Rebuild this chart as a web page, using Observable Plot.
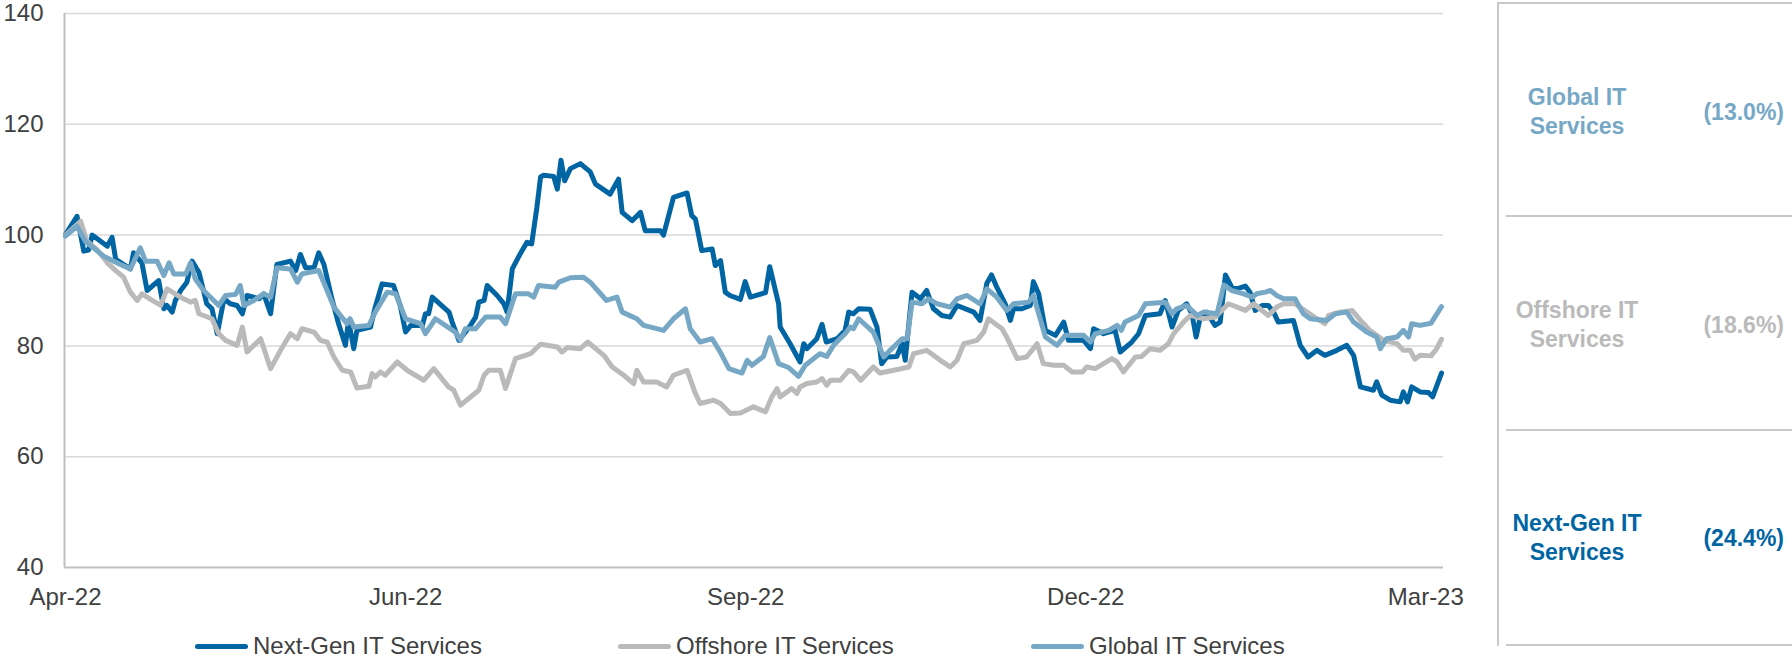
<!DOCTYPE html>
<html><head><meta charset="utf-8">
<script src="https://cdn.jsdelivr.net/npm/d3@7"></script>
<script src="https://cdn.jsdelivr.net/npm/@observablehq/plot@0.6"></script>
<style>
body{margin:0;background:#fff;font-family:"Liberation Sans",Arial,sans-serif;}
#wrap{position:relative;width:1792px;height:660px;overflow:hidden;}
#chart{position:absolute;left:0;top:0;}
.leg{position:absolute;display:flex;align-items:center;font-size:24px;color:#404040;white-space:nowrap;}
.leg .sw{width:53px;height:5px;border-radius:3px;margin-right:5px;}
.pline{position:absolute;background:#c8c8c8;}
.plabel{position:absolute;font-weight:bold;font-size:23px;line-height:29px;text-align:center;width:200px;}
.ppct{position:absolute;font-weight:bold;font-size:23px;line-height:29px;text-align:right;width:120px;}
</style></head>
<body><div id="wrap"><div id="chart"></div></div>
<script>
// Series (index: 100 = start), x = trading-day position from start of Apr-22
const seriesNames = ["Next-Gen IT Services", "Offshore IT Services", "Global IT Services"];
const seriesColors = ["#0065a2", "#bababa", "#76a8c6"];
const panelOrder = ["Global IT Services", "Offshore IT Services", "Next-Gen IT Services"];
const panelLabels = [["Global IT", "Services"], ["Offshore IT", "Services"], ["Next-Gen IT", "Services"]];
const panelChanges = ["(13.0%)", "(18.6%)", "(24.4%)"];
const tickDays = [0, 65, 130, 195, 260];
const tickLabels = ["Apr-22", "Jun-22", "Sep-22", "Dec-22", "Mar-23"];
const yTicks = [40, 60, 80, 100, 120, 140];

const nextGen = [[0,100.1],[2.2,103.4],[3.5,97.1],[4.4,97.3],[5.1,100],[8,98],[8.9,99.6],[9.6,95.6],[12.4,93.9],[13,96.8],[14.6,95],[15.6,90],[17.8,91.8],[18.8,86.7],[19.4,87.3],[20.4,86.1],[21,88.2],[22,90],[23.2,91.5],[24.2,95.3],[25.5,93.3],[27,87.6],[28,86.7],[29,82.2],[30.3,88.5],[31.5,87.6],[32.8,87.3],[33.8,85.8],[34.7,89.1],[37,88.5],[37.9,89.4],[39.2,85.8],[40.4,94.7],[43,95.3],[44,93.6],[44.9,96.5],[45.9,94.1],[47.5,94.1],[48.4,96.8],[49.4,94.7],[51,88.2],[52.2,84],[53.5,80.1],[54.1,84.6],[55.1,79.5],[55.7,82.8],[58.3,83.4],[59.2,87],[60.5,91.2],[62.7,90.9],[64,87.2],[65,82.5],[66,83.7],[68.2,83.7],[68.8,85.8],[69.4,85.8],[70.1,88.8],[73.3,86.1],[73.9,84.3],[75.2,81],[77.4,83.7],[78.4,85.2],[79,87.9],[80,88.2],[80.6,90.9],[82.5,89.1],[83.8,87.6],[84.4,86.1],[85.4,93.9],[86.9,96.6],[88.2,98.7],[89.1,98.4],[90.1,105],[90.8,110.5],[91.4,110.8],[93.3,110.6],[94,108.3],[94.7,113.5],[95.4,109.8],[96.5,112],[98.4,112.9],[100.3,111.4],[101.3,109.2],[104.1,107.4],[105.7,110.1],[106.4,104.1],[108.3,102.6],[109.9,104.1],[110.8,100.8],[113.7,100.8],[114.3,100],[116.2,106.8],[118.8,107.6],[119.7,103.5],[120.4,102.9],[121.6,97.2],[123.6,97.5],[124.2,94.5],[125.2,95.4],[126.1,89.7],[127,89.1],[129,88.4],[129.9,91.6],[130.9,88.8],[133.8,89.6],[134.6,94.3],[136.3,87.6],[136.6,83.4],[138.5,80.4],[140.4,77.1],[141.1,80.4],[141.7,79.5],[143.6,81.3],[144.6,83.9],[145.4,80.7],[147.5,81.3],[149,82.8],[149.7,86.1],[150.6,85.8],[151.6,86.7],[153.8,86.6],[155.1,83.4],[156,76.8],[157,78],[158.9,78.1],[159.9,80.4],[160.5,77.4],[161.8,89.7],[163.4,88.5],[164.6,90],[165.9,86.7],[167.5,85.5],[169.1,85.2],[170.4,87.3],[173.6,86.1],[174.8,84.6],[176.1,91.3],[177,92.8],[178,90.6],[179.6,87.6],[180.6,84.6],[181.2,86.7],[182.8,86.7],[184.4,87.3],[185,91.6],[186,89.4],[187.3,82.8],[189.2,81.9],[190.8,84.3],[191.7,81],[194.6,81],[195.9,79.5],[196.5,83.1],[198.4,82.2],[200.6,82.8],[201.6,78.9],[203.8,80.7],[205.1,82.2],[206.4,85.5],[209.2,85.8],[210.2,88.2],[211.5,83.4],[212.7,86.4],[214.3,87.6],[215.3,85.8],[216.1,81.6],[216.9,85.2],[218.1,86.1],[219.7,83.7],[220.7,84.3],[221.7,92.8],[222.9,90.6],[223.9,90.3],[225.5,90.8],[226.4,89.7],[227.4,86.4],[228.7,87.3],[229.9,87.3],[230.9,86.1],[231.8,84.3],[234.7,84.6],[236,80.1],[237.5,78],[239.2,79.2],[240.7,78.3],[243,79.2],[244.9,80.1],[246.2,78.3],[247.5,72.6],[250,72],[250.6,73.5],[251.6,71.1],[253.2,70.2],[255.1,69.9],[255.7,71.7],[256.5,69.9],[257.3,72.6],[258.9,71.7],[260.5,71.6],[261.3,70.8],[263,75.1]];

const offshore = [[0,100],[2.9,102.5],[4.1,98.9],[6,97.4],[8,95],[9.6,93.6],[11.1,92.4],[12.4,89.7],[13.7,88.2],[14.6,89.4],[16.6,88.2],[18.2,87.3],[19.4,90.3],[22,88.8],[23.9,87.9],[24.8,88.2],[25.5,85.8],[28,84.9],[29.3,82.2],[30.6,81],[32.8,80.1],[33.8,83.4],[34.7,78.9],[35.7,79.8],[37.3,81.3],[39.2,75.9],[41.1,79.2],[43,82.2],[44.3,81.3],[45.2,83.1],[47.5,82.5],[48.7,81],[50,80.7],[51.3,78],[52.9,75.6],[54.5,75.3],[55.7,72.4],[58,72.7],[58.6,75],[59.2,74.4],[60.2,75.3],[61.1,74.7],[63.4,77.1],[65.3,75.6],[68.5,73.8],[70.4,75.9],[73.2,72.6],[74.2,72],[75.5,69.3],[79,72],[80,74.7],[80.9,75.6],[83.1,75.6],[84.1,72.3],[86,77.7],[88.9,78.6],[90.8,80.3],[94,79.8],[94.9,78.9],[95.9,79.7],[98.4,79.5],[99.8,80.7],[102.9,78.3],[104.5,76.2],[106.7,74.7],[108.6,73.2],[109.2,75.6],[110.5,73.5],[113,73.5],[114.9,72.6],[116.2,74.7],[118.8,75.6],[120.4,71.4],[121.3,69.6],[123.9,70.2],[125.2,69.6],[127.1,67.8],[129,67.9],[131.5,69],[133.8,68.1],[135,70.8],[136,72.3],[136.6,70.8],[138.8,72.3],[139.8,71.4],[140.4,72.6],[141.7,73.2],[143.6,73.5],[144.6,74.1],[145.5,72.9],[146.2,73.8],[148.1,73.8],[149.7,75.6],[150.6,75.3],[152,73.8],[154.4,76.2],[155.7,75.1],[158.3,75.6],[161.2,76.2],[162.1,78.6],[164.6,79.2],[167.2,77.4],[169.1,76.2],[170.4,77.4],[171.7,80.4],[174.2,81],[175.5,82.5],[176.4,84.9],[179,83.1],[179.9,81.6],[181.9,77.7],[183.7,78],[185.7,80.4],[186.9,76.8],[188.9,76.5],[190.8,76.5],[192.4,75.3],[194.4,75.3],[195.2,76.2],[196.8,75.9],[200,77.7],[201,77.1],[202.2,75.3],[204.5,78],[205.7,78.1],[207.3,79.5],[209.2,79.2],[210.8,80.4],[211.8,82.2],[213.7,84.3],[215,85.5],[217.5,84.9],[219.7,85.2],[222.3,87.6],[225.5,86.4],[227.1,87.6],[228.7,86.4],[229.9,85.5],[231.5,87],[232.8,87.6],[235,87.6],[237.3,86.1],[239.2,84.9],[240.7,84],[241.4,85.5],[243.6,86.1],[245.9,86.4],[247.8,84.3],[249.3,82.8],[251.9,81],[254.5,80.4],[255.7,79.2],[257,79.2],[257.9,77.6],[258.9,78.3],[261,78.2],[262,79.4],[263,81.2]];

const globalIT = [[0,99.8],[2.2,101.6],[3.8,98.9],[7.3,96.2],[10.5,94.7],[12.4,93.9],[14.3,97.7],[15.3,95.3],[17.5,95.3],[18.8,92.7],[19.8,95],[20.7,93],[23,93],[23.9,95],[24.8,92.1],[26.4,90],[29.3,87.3],[30.6,89.1],[32.5,89.3],[33.4,90.9],[34.1,87.3],[36,88.2],[37.9,89.4],[39.2,88.8],[40.4,94.1],[43,93.9],[44.3,91.5],[45.2,93],[48.4,93.6],[50,90],[51.3,87],[53.8,84],[54.4,84.9],[55.1,83.4],[58,83.7],[59.2,86.1],[61.5,89.7],[63.1,89.4],[65,84.9],[67.9,84],[68.8,82.2],[70.7,84.9],[74.5,82.5],[75.5,81],[76.4,83.1],[78.4,83.1],[80.3,85.2],[83.1,85.2],[84.1,84],[86,89.4],[88.5,89.4],[89.5,88.8],[90.4,90.9],[93.6,90.6],[94.3,91.5],[96.5,92.3],[99,92.4],[100.3,91.5],[103.4,88.2],[105.4,88.8],[106.4,86.1],[109.2,84.9],[110.5,83.7],[114.3,82.8],[116.2,84.9],[118.5,86.7],[119.4,83.1],[121.3,80.7],[123.6,81.3],[125.2,78.8],[126.8,75.9],[129.3,75.1],[130.3,77.4],[131.2,76.5],[133.4,78.1],[134.6,81.5],[136.3,76.8],[138.2,76.1],[140.1,74.5],[141.4,76.5],[144.2,78.6],[145.5,78.1],[146.8,80.1],[149,82.2],[150,83.4],[150.6,83.1],[151.6,84.9],[154.4,82.5],[156.4,78],[157.6,79.2],[159.9,81.3],[160.9,81.3],[161.8,87.9],[163.7,87.6],[165,88.5],[166.6,87.6],[169.1,87],[170.4,88.5],[172.3,89.1],[174.8,87.6],[176.1,90.3],[178,88.8],[179.9,86.4],[181.2,87.6],[184.1,87.9],[185,89.1],[187.3,81.6],[189.5,80.1],[191.1,81.9],[194.6,81.9],[195.9,80.7],[196.8,82.2],[199.4,82.8],[201,83.7],[201.8,82.8],[202.5,84.3],[205.1,85.5],[206.4,87.6],[210.2,87.9],[211.5,85.8],[212.4,86.7],[214.3,87.3],[216.3,85.5],[217.5,86.1],[220.1,85.8],[221.4,91],[222.9,90],[225.2,89.4],[226.8,88.8],[227.7,89.4],[229.3,89.7],[230.3,90],[231.5,89.1],[232.8,88.5],[235,88.5],[236.6,85.8],[237.9,84.9],[241.1,84.6],[242.7,85.8],[244.9,86.1],[246.2,84.3],[248.7,82.5],[250.6,81.6],[251.3,79.5],[252.5,81.3],[254.5,81.6],[255.7,82.8],[256.7,81.6],[257.3,84],[258.9,83.7],[261,84.1],[263,87.1]];

const seriesData = [nextGen, offshore, globalIT];
const rows = seriesData.flatMap((arr, i) => arr.map(([t, v]) => ({t, v, s: seriesNames[i]})));

const W = 1792, H = 615;
const chart = Plot.plot({
  width: W, height: H,
  marginLeft: 64, marginRight: W - 1443, marginTop: 13, marginBottom: H - 567,
  style: {fontSize: "24px", fontFamily: "'Liberation Sans', Arial, sans-serif", color: "#404040", background: "#fff", overflow: "visible"},
  x: {domain: [-0.19, 263.38], ticks: tickDays, tickFormat: d => tickLabels[tickDays.indexOf(d)], tickSize: 0, tickPadding: 20, label: null},
  y: {domain: [40, 140], ticks: yTicks, tickSize: 0, tickPadding: 21, label: null},
  color: {domain: seriesNames, range: seriesColors},
  marks: [
    Plot.ruleY(yTicks.filter(d => d > 40), {stroke: "#d9d9d9", strokeWidth: 1.5}),
    Plot.ruleY([40], {stroke: "#bfbfbf", strokeWidth: 2}),
    Plot.ruleX([-0.19], {y1: 40, y2: 140, stroke: "#bfbfbf", strokeWidth: 2}),
    Plot.line(rows, {x: "t", y: "v", z: "s", stroke: "s", strokeWidth: 5, strokeLinejoin: "round", strokeLinecap: "round"})
  ]
});
document.getElementById("chart").appendChild(chart);

const wrap = document.getElementById("wrap");
// legend
const legLeft = [195, 618, 1031];
seriesNames.forEach((name, i) => {
  const el = document.createElement("div");
  el.className = "leg";
  el.style.left = legLeft[i] + "px";
  el.style.top = "631px";
  el.style.height = "30px";
  el.innerHTML = `<div class="sw" style="background:${seriesColors[i]}"></div><span>${name}</span>`;
  wrap.appendChild(el);
});

// right panel
function line(x, y, w, h) {
  const d = document.createElement("div");
  d.className = "pline";
  Object.assign(d.style, {left: x + "px", top: y + "px", width: w + "px", height: h + "px"});
  wrap.appendChild(d);
}
line(1497, 2, 2, 644);
line(1497, 2, 295, 2);
line(1506, 215, 286, 2);
line(1506, 429, 286, 2);
line(1506, 644, 286, 2);
const rowCenters = [112, 325, 538];
panelOrder.forEach((name, i) => {
  const c = seriesColors[seriesNames.indexOf(name)];
  const lab = document.createElement("div");
  lab.className = "plabel";
  lab.style.left = (1577 - 100) + "px";
  lab.style.top = (rowCenters[i] - 29) + "px";
  lab.style.color = c;
  lab.innerHTML = panelLabels[i].join("<br>");
  wrap.appendChild(lab);
  const p = document.createElement("div");
  p.className = "ppct";
  p.style.left = (1784 - 120) + "px";
  p.style.top = (rowCenters[i] - 14) + "px";
  p.style.color = c;
  p.textContent = panelChanges[i];
  wrap.appendChild(p);
});
</script></body></html>
